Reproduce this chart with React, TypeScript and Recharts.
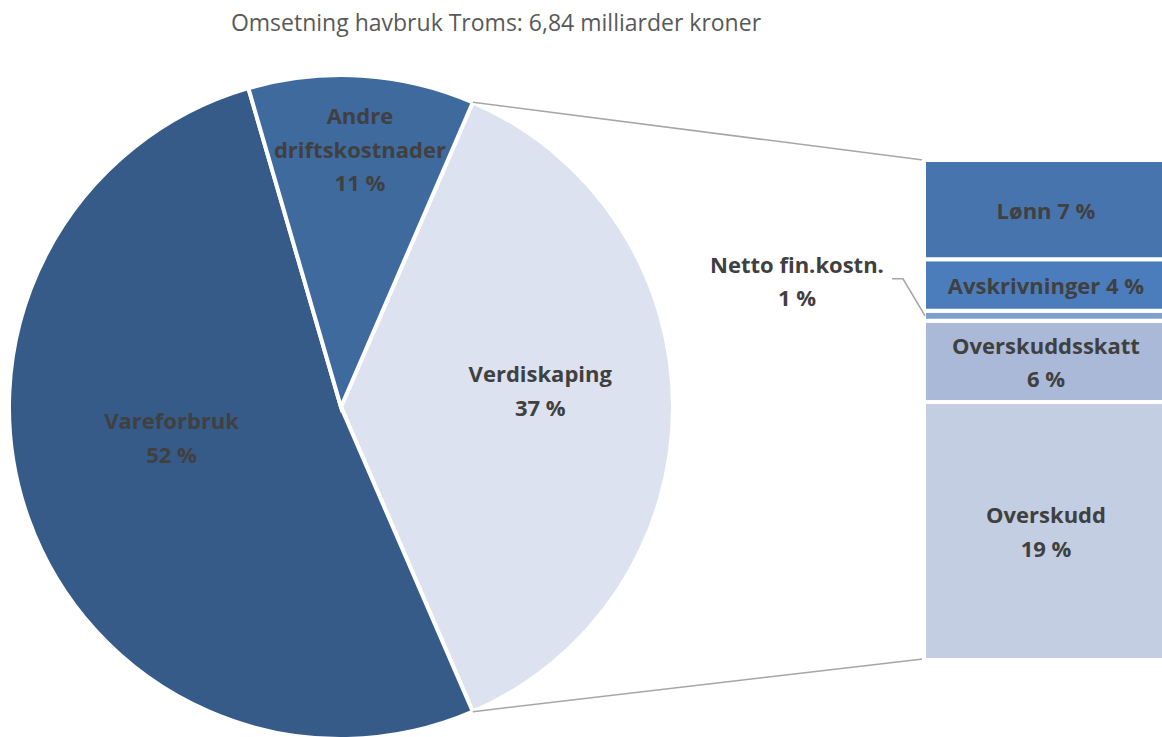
import { PieChart, Pie, Cell, BarChart, Bar, XAxis, YAxis, LabelList } from 'recharts';

// pie: share of turnover (%)
const pieNames = ['Verdiskaping', 'Vareforbruk', 'Andre driftskostnader'];
const pieValues = [37, 52, 11];
const pieLabels = [['Verdiskaping', '37 %'], ['Vareforbruk', '52 %'], ['Andre', 'driftskostnader', '11 %']];

// bar: breakdown of Verdiskaping (%), bottom to top
const barNames = ['Overskudd', 'Overskuddsskatt', 'Netto fin.kostn.', 'Avskrivninger', 'Lønn'];
const barValues = [19.1, 6.0, 0.75, 3.8, 7.35];
const barLabels = [['Overskudd', '19 %'], ['Overskuddsskatt', '6 %'], ['Netto fin.kostn.', '1 %'], ['Avskrivninger 4 %'], ['Lønn 7 %']];

const title = 'Omsetning havbruk Troms: 6,84 milliarder kroner';

const pieColors = ['#dce2ef', '#365b88', '#3e6a9e'];
const barColors = ['#c3cee2', '#aab9d7', '#7f9fcf', '#4b7dbd', '#4874ad'];

const FONT = '"Open Sans", sans-serif';
const LABEL_COLOR = '#404040';
const LINE_H = 33.5;

const CX = 341;
const CY = 407;
const R = 332;
const BAR_LEFT = 924;
const BAR_TOP = 160;
const BAR_H = 500;
const BAR_W = 250;
const PAD = 320;

// where each pie label sits (radius in px, angle in degrees)
const pieLabelPos = [
  { r: 200, a: 4.9 },
  { r: 172, a: 190 },
  { r: 259, a: 85.8 },
];

const pieTotal = pieValues.reduce((s, v) => s + v, 0);
const startAngle = (pieValues[0] / pieTotal) * 180;
const barTotal = barValues.reduce((s, v) => s + v, 0);

const pieData = pieNames.map((name, i) => ({ name, value: pieValues[i] }));
const barRow: Record<string, number | string> = { cat: 'Verdiskaping' };
barNames.forEach((n, i) => (barRow[n] = barValues[i]));

const rad = Math.PI / 180;

const lines = (arr: string[], x: number, y: number, key?: string) => {
  const top = y - ((arr.length - 1) * LINE_H) / 2;
  return (
    <text key={key} x={x} textAnchor="middle" fill={LABEL_COLOR} fontFamily={FONT} fontWeight={700} fontSize={22}>
      {arr.map((t, i) => (
        <tspan key={i} x={x} y={top + i * LINE_H} dominantBaseline="central">
          {t}
        </tspan>
      ))}
    </text>
  );
};

const renderPieLabel = (props: any) => {
  const i = props.index;
  const p = pieLabelPos[i];
  const x = CX + p.r * Math.cos(p.a * rad);
  const y = CY - p.r * Math.sin(p.a * rad);
  return lines(pieLabels[i], x, y, 'pl' + i);
};

const barLabelContent = (i: number) => (props: any) => {
  const { x, y, height } = props;
  const cy = y + height / 2;
  if (barNames[i] === 'Netto fin.kostn.') {
    const lx = x - 127;
    return (
      <g>
        {lines(barLabels[i], lx, cy - 35)}
        <polyline
          points={`${x - 32},${cy - 37} ${x - 21},${cy - 37} ${x + 1},${cy}`}
          fill="none"
          stroke="#a6a6a6"
          strokeWidth={1.5}
        />
      </g>
    );
  }
  return lines(barLabels[i], x + 122, cy);
};

export default function App() {
  const a1 = startAngle * rad;
  const a2 = (startAngle - (pieValues[0] / pieTotal) * 360) * rad;
  const p1 = { x: CX + R * Math.cos(a1), y: CY - R * Math.sin(a1) };
  const p2 = { x: CX + R * Math.cos(a2), y: CY - R * Math.sin(a2) };
  return (
    <div style={{ position: 'fixed', left: 0, top: 0, width: 1162, height: 737, overflow: 'hidden', background: '#fff' }}>
      <div
        style={{
          position: 'absolute',
          top: 6,
          left: 0,
          width: 992,
          textAlign: 'center',
          fontFamily: FONT,
          fontSize: 23,
          lineHeight: '32px',
          color: '#595959',
        }}
      >
        {title}
      </div>
      <div style={{ position: 'absolute', left: 0, top: 0 }}>
        <PieChart width={1162} height={737} margin={{ top: 0, right: 0, bottom: 0, left: 0 }}>
          <Pie
            data={pieData}
            dataKey="value"
            nameKey="name"
            cx={CX}
            cy={CY}
            outerRadius={R}
            startAngle={startAngle}
            endAngle={startAngle - 360}
            stroke="#fff"
            strokeWidth={4}
            label={renderPieLabel}
            labelLine={false}
            isAnimationActive={false}
          >
            {pieData.map((d, i) => (
              <Cell key={d.name} fill={pieColors[i]} />
            ))}
          </Pie>
        </PieChart>
      </div>
      <svg style={{ position: 'absolute', left: 0, top: 0 }} width={1162} height={737}>
        <line x1={p1.x} y1={p1.y} x2={BAR_LEFT - 1} y2={BAR_TOP} stroke="#a6a6a6" strokeWidth={1.5} />
        <line x1={p2.x} y1={p2.y} x2={BAR_LEFT - 1} y2={BAR_TOP + BAR_H - 1} stroke="#a6a6a6" strokeWidth={1.5} />
      </svg>
      <div style={{ position: 'absolute', left: BAR_LEFT - PAD, top: BAR_TOP - 10 }}>
        <BarChart
          width={BAR_W + PAD}
          height={BAR_H + 20}
          data={[barRow]}
          margin={{ top: 10, right: 0, bottom: 10, left: PAD }}
          barCategoryGap={0}
        >
          <XAxis dataKey="cat" hide />
          <YAxis hide domain={[0, barTotal]} />
          {barNames.map((n, i) => (
            <Bar key={n} dataKey={n} stackId="v" fill={barColors[i]} stroke="#fff" strokeWidth={4} isAnimationActive={false}>
              <LabelList dataKey={n} content={barLabelContent(i)} />
            </Bar>
          ))}
        </BarChart>
      </div>
    </div>
  );
}
